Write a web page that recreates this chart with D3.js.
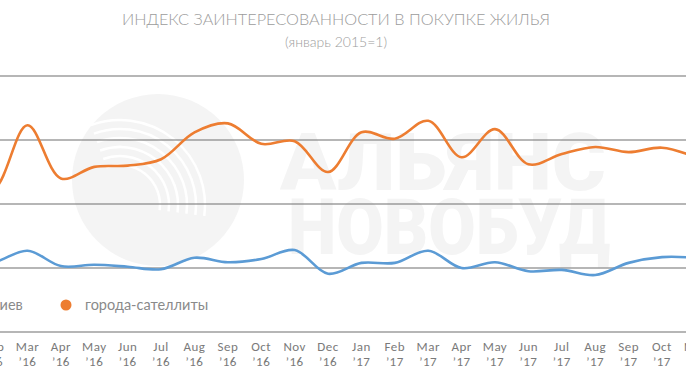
<!DOCTYPE html>
<html><head><meta charset="utf-8">
<script src="https://cdn.jsdelivr.net/npm/d3@7/dist/d3.min.js"></script>
<style>body{margin:0;background:#fff}svg{display:block}</style>
</head><body>
<svg id="c" width="686" height="386"></svg>
<script>
const months = ["Jan","Feb","Mar","Apr","May","Jun","Jul","Aug","Sep","Oct","Nov","Dec","Jan","Feb","Mar","Apr","May","Jun","Jul","Aug","Sep","Oct","Nov"];
const years  = ["’16","’16","’16","’16","’16","’16","’16","’16","’16","’16","’16","’16","’17","’17","’17","’17","’17","’17","’17","’17","’17","’17","’17"];
const kyiv      = [1.05,1.09,1.27,1.03,1.05,1.02,0.98,1.16,1.09,1.14,1.28,0.91,1.08,1.08,1.27,1.00,1.09,0.95,0.97,0.89,1.08,1.17,1.16];
const satellite = [2.06,2.22,3.23,2.40,2.58,2.60,2.70,3.12,3.26,2.94,2.98,2.50,3.12,3.02,3.30,2.73,3.17,2.62,2.78,2.89,2.81,2.88,2.73];
const gridValues = [0,1,2,3,4];
const title = "ИНДЕКС ЗАИНТЕРЕСОВАННОСТИ В ПОКУПКЕ ЖИЛЬЯ";
const subtitle = "(январь 2015=1)";
const legendNames = ["Киев","города-сателлиты"];
const colors = ["#5b9bd5","#ed7d31"];

const svg = d3.select("#c");
const x = d3.scaleLinear().domain([2, 21]).range([27.5, 662]);
const y = d3.scaleLinear().domain([0, 4]).range([332, 76]);

// watermark
const wm = svg.append("g").attr("fill","#f4f4f4");
wm.append("circle").attr("cx",158).attr("cy",180).attr("r",86);
const arcs = svg.append("g").attr("fill","none").attr("stroke","#ffffff").attr("stroke-width",2.5);
[0,1,2,3,4,5].forEach(k=>{
  const r = 40 + k*9;
  arcs.append("path").attr("d", d3.arc()({innerRadius:r, outerRadius:r, startAngle:-0.35, endAngle:1.7}))
    .attr("transform","translate(120,205)");
});
wm.append("text").attr("x",280).attr("y",190).attr("font-family","Roboto, sans-serif").attr("font-weight",900)
  .attr("font-size",80).attr("textLength",326).attr("lengthAdjust","spacingAndGlyphs").text("АЛЬЯНС");
wm.append("text").attr("x",288).attr("y",254).attr("font-family","Roboto, sans-serif").attr("font-weight",900)
  .attr("font-size",78).attr("textLength",322).attr("lengthAdjust","spacingAndGlyphs").text("НОВОБУД");

// grid
svg.append("g").selectAll("line").data(gridValues).join("line")
  .attr("x1",0).attr("x2",686).attr("y1",d=>y(d)).attr("y2",d=>y(d))
  .attr("stroke","#6e6e6e").attr("stroke-width",1.2);

// titles
svg.append("text").attr("x",336).attr("y",25).attr("text-anchor","middle")
  .attr("font-family","Lato, 'Open Sans', sans-serif").attr("font-weight",300).attr("font-size",15.5)
  .attr("fill","#9c9c9c").attr("textLength",428).attr("lengthAdjust","spacingAndGlyphs").text(title);
svg.append("text").attr("x",336).attr("y",47).attr("text-anchor","middle")
  .attr("font-family","Lato, 'Open Sans', sans-serif").attr("font-weight",300).attr("font-size",14)
  .attr("fill","#9c9c9c").text(subtitle);

// lines
const line = d3.line().x((d,i)=>x(i)).y(d=>y(d)).curve(d3.curveCatmullRom.alpha(0.5));
[kyiv, satellite].forEach((s,k)=>{
  svg.append("path").datum(s).attr("d",line).attr("fill","none")
    .attr("stroke",colors[k]).attr("stroke-width",2.6).attr("stroke-linejoin","round");
});

// legend
const lg = svg.append("g").attr("font-family","Lato, 'Open Sans', sans-serif").attr("font-size",14.5).attr("fill","#8a8a8a");
lg.append("circle").attr("cx",-34).attr("cy",305).attr("r",5.5).attr("fill",colors[0]);
lg.append("text").attr("x",-10).attr("y",310).text(legendNames[0]);
lg.append("circle").attr("cx",66).attr("cy",305).attr("r",5.5).attr("fill",colors[1]);
lg.append("text").attr("x",85).attr("y",310).text(legendNames[1]);

// x axis labels
const ax = svg.append("g").attr("font-family","Carlito, 'Open Sans', sans-serif").attr("font-size",13)
  .attr("letter-spacing",0.5).attr("fill","#7a7a7a").attr("text-anchor","middle");
months.forEach((m,i)=>{
  ax.append("text").attr("x",x(i)).attr("y",351).text(m);
  ax.append("text").attr("x",x(i)).attr("y",366).text(years[i]);
});
</script>
</body></html>
